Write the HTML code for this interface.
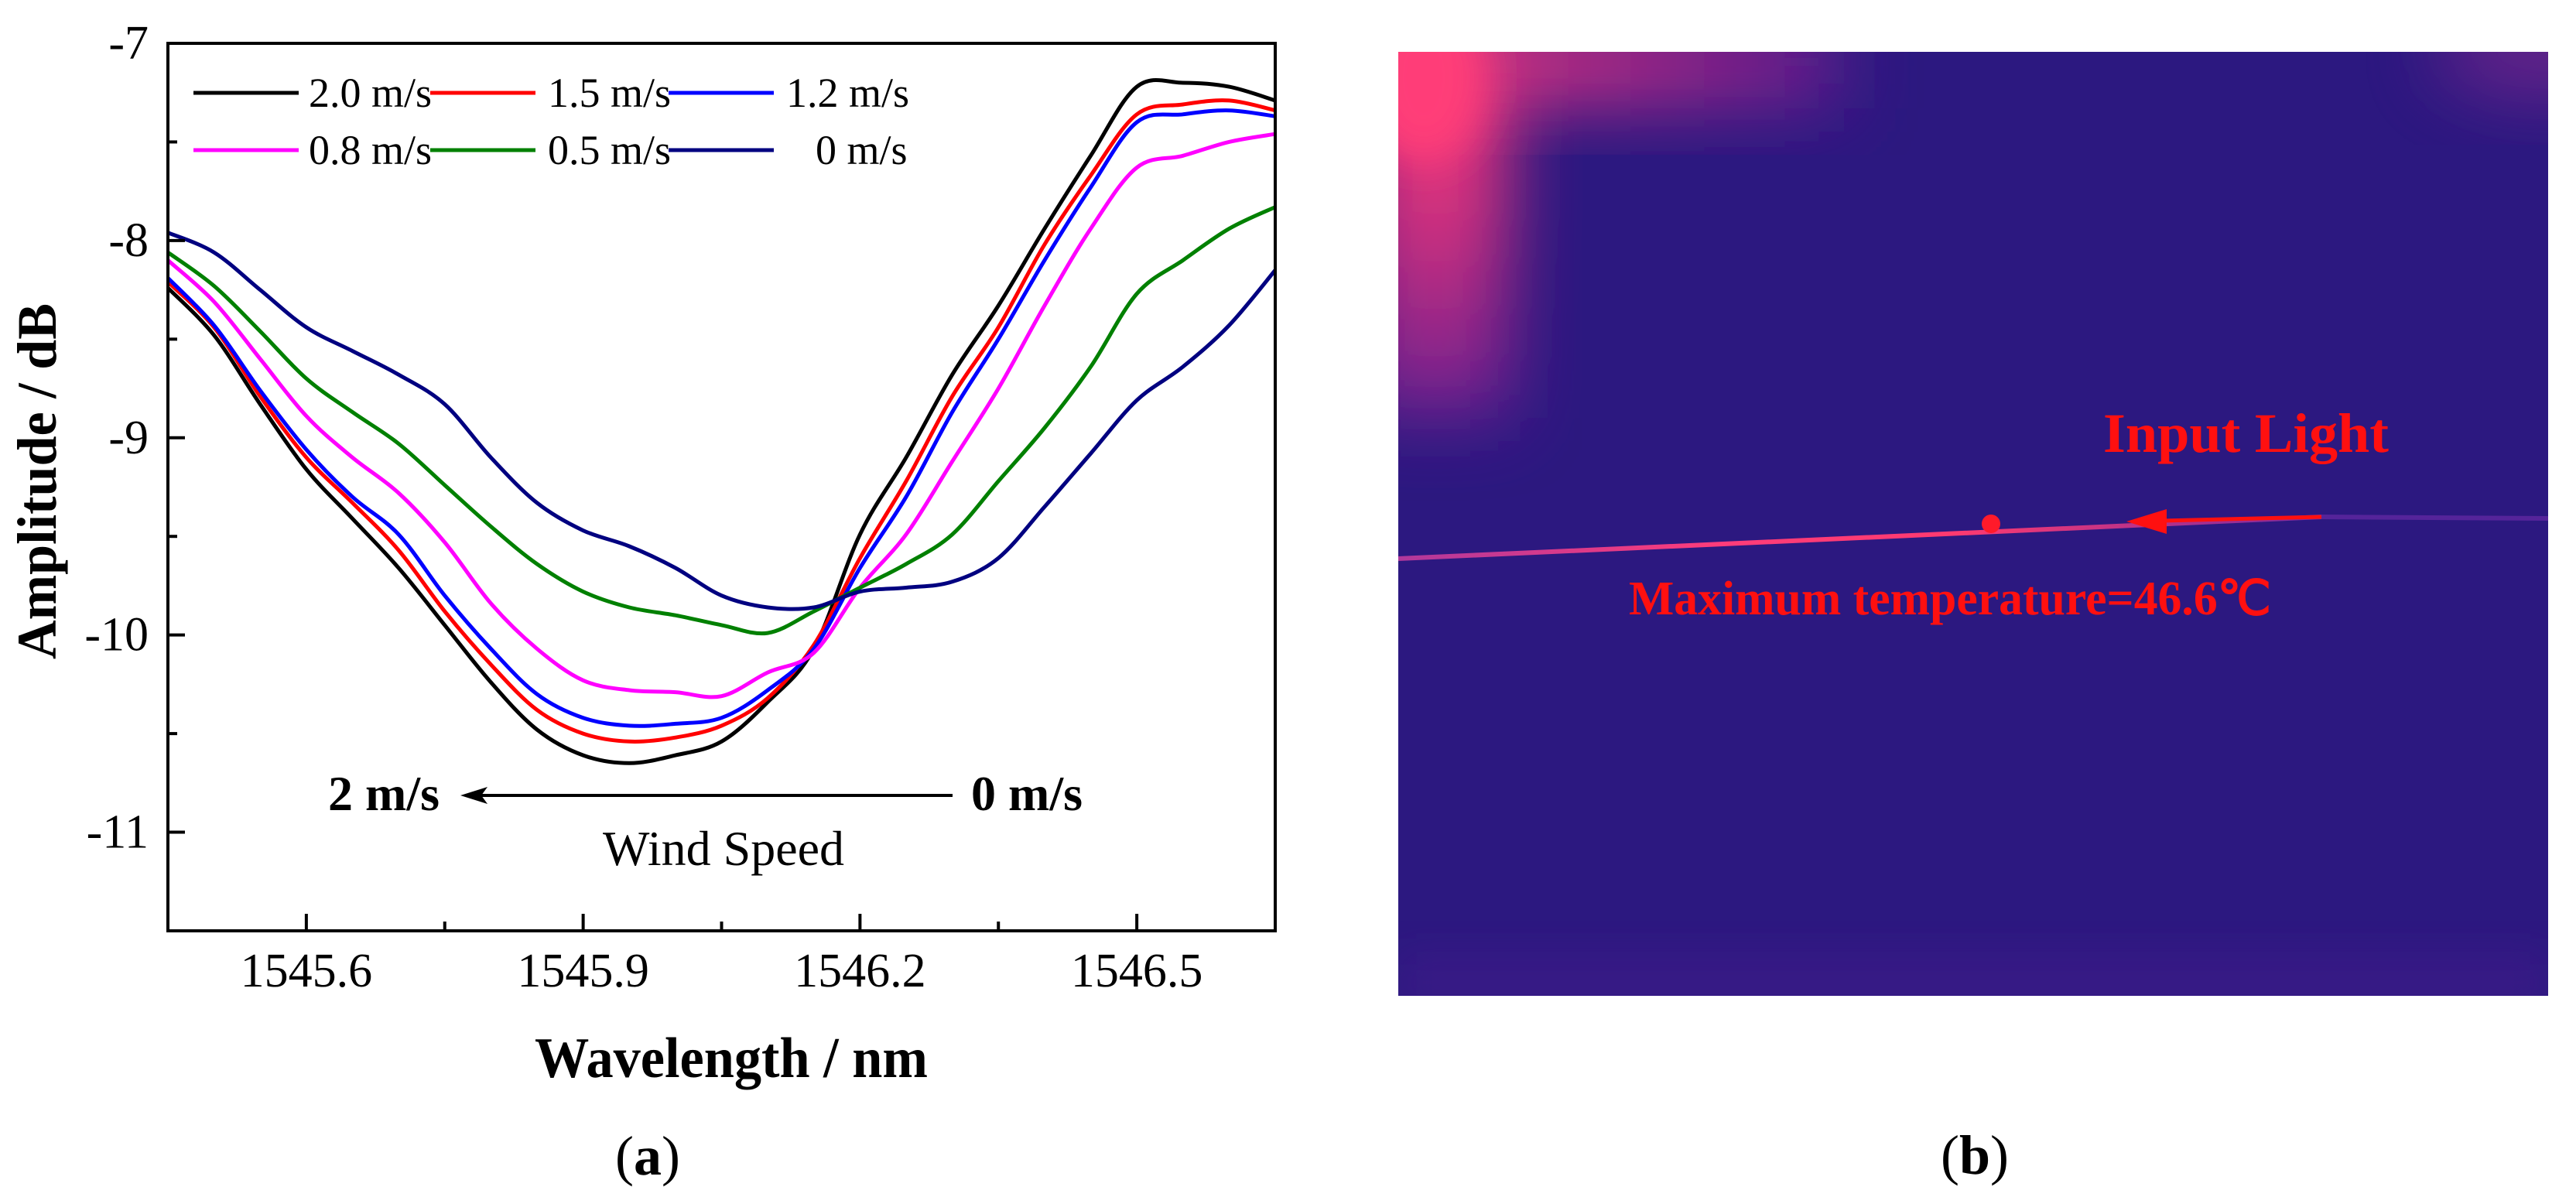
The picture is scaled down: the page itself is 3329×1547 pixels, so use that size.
<!DOCTYPE html>
<html><head><meta charset="utf-8"><style>
html,body{margin:0;padding:0;background:#fff;}
svg{display:block;}
text{font-family:"Liberation Serif",serif;}
</style></head><body>
<svg id="fig" width="3329" height="1547" viewBox="0 0 3329 1547" xmlns="http://www.w3.org/2000/svg">
<defs>
<filter id="blur" x="-50%" y="-50%" width="200%" height="200%"><feGaussianBlur stdDeviation="45"/></filter>
<filter id="blur2" x="-50%" y="-50%" width="200%" height="200%"><feGaussianBlur stdDeviation="25"/></filter>
<clipPath id="imgclip"><rect x="1807" y="67" width="1486" height="1220"/></clipPath>
<linearGradient id="leftStrip" x1="0" y1="0" x2="0" y2="1">
<stop offset="0" stop-color="#ff3a78"/><stop offset="0.5" stop-color="#d0307e"/><stop offset="1" stop-color="#6a2090"/>
</linearGradient>
<linearGradient id="topStrip" x1="0" y1="0" x2="1" y2="0">
<stop offset="0" stop-color="#f03a7a"/><stop offset="0.5" stop-color="#b02a84"/><stop offset="1" stop-color="#5a1d8c"/>
</linearGradient>
<linearGradient id="fiber" x1="0" y1="0" x2="1" y2="0">
<stop offset="0" stop-color="#b0389c"/><stop offset="0.35" stop-color="#ff3c7a"/><stop offset="0.6" stop-color="#ff3a70"/><stop offset="1" stop-color="#7a2aa0"/>
</linearGradient>
</defs>

<g id="chart-a"></g>

<g id="panel-b">
<rect x="1807" y="67" width="1486" height="1220" fill="#2c1880"/>
<g clip-path="url(#imgclip)">
<rect x="1760" y="20" width="190" height="520" fill="url(#leftStrip)" filter="url(#blur)"/>
<rect x="1760" y="20" width="620" height="120" fill="url(#topStrip)" filter="url(#blur)"/>
<ellipse cx="1840" cy="100" rx="80" ry="110" fill="#ff3c78" filter="url(#blur2)"/>
<ellipse cx="3293" cy="67" rx="150" ry="60" fill="#8a2a90" opacity="0.6" filter="url(#blur)"/>
<rect x="1807" y="1230" width="1486" height="80" fill="#4a1a8e" opacity="0.4" filter="url(#blur2)"/>
</g>
<line x1="1807" y1="722" x2="3000" y2="668" stroke="url(#fiber)" stroke-width="6"/>
<line x1="3000" y1="668" x2="3293" y2="670" stroke="#55249a" stroke-width="6"/>
<circle cx="2573" cy="677" r="12" fill="#ff1a2a"/>
<line x1="3000" y1="668" x2="2795" y2="673" stroke="#ff1010" stroke-width="5"/>
<polygon points="2748,674 2800,658 2800,690" fill="#ff1010"/>
<text x="2718" y="584" font-size="72" font-weight="bold" fill="#ff1010" textLength="369" lengthAdjust="spacingAndGlyphs">Input Light</text>
<text x="2105" y="794" font-size="62" font-weight="bold" fill="#ff1010" textLength="830" lengthAdjust="spacingAndGlyphs">Maximum temperature=46.6℃</text>
<text x="2552" y="1517" font-size="72" text-anchor="middle" fill="#000">(<tspan font-weight="bold">b</tspan>)</text>
</g>
</svg>
<script>
const categories = [1545.45,1545.5,1545.55,1545.6,1545.65,1545.7,1545.75,1545.8,1545.85,1545.9,1545.95,1546.0,1546.05,1546.1,1546.15,1546.2,1546.25,1546.3,1546.35,1546.4,1546.45,1546.5,1546.55,1546.6,1546.65];
const s20 = [-8.24,-8.48,-8.83,-9.16,-9.41,-9.66,-9.95,-10.24,-10.48,-10.61,-10.65,-10.61,-10.54,-10.34,-10.07,-9.49,-9.10,-8.68,-8.33,-7.94,-7.57,-7.22,-7.20,-7.22,-7.29];
const s15 = [-8.21,-8.44,-8.79,-9.10,-9.33,-9.57,-9.88,-10.15,-10.38,-10.50,-10.54,-10.52,-10.46,-10.32,-10.05,-9.61,-9.22,-8.79,-8.44,-8.02,-7.67,-7.36,-7.31,-7.29,-7.34];
const s12 = [-8.19,-8.43,-8.76,-9.06,-9.30,-9.49,-9.80,-10.07,-10.30,-10.42,-10.46,-10.45,-10.42,-10.28,-10.07,-9.66,-9.30,-8.87,-8.50,-8.10,-7.73,-7.40,-7.36,-7.34,-7.37];
const s08 = [-8.10,-8.31,-8.60,-8.89,-9.10,-9.28,-9.53,-9.84,-10.07,-10.23,-10.28,-10.29,-10.31,-10.19,-10.09,-9.76,-9.49,-9.12,-8.75,-8.33,-7.94,-7.63,-7.57,-7.50,-7.46];
const s05 = [-8.06,-8.23,-8.46,-8.70,-8.87,-9.03,-9.24,-9.45,-9.64,-9.78,-9.86,-9.90,-9.95,-9.99,-9.88,-9.76,-9.64,-9.49,-9.22,-8.95,-8.64,-8.27,-8.10,-7.94,-7.83];
const s00 = [-7.96,-8.06,-8.25,-8.44,-8.56,-8.68,-8.83,-9.10,-9.33,-9.47,-9.55,-9.66,-9.80,-9.86,-9.86,-9.78,-9.76,-9.73,-9.61,-9.35,-9.08,-8.81,-8.64,-8.43,-8.15];
const seriesNames = ["2.0 m/s","1.5 m/s","1.2 m/s","0.8 m/s","0.5 m/s","0 m/s"];
const seriesColors = ["#000000","#ff0000","#0000ff","#ff00ff","#008000","#000080"];
const xTicks = [1545.6,1545.9,1546.2,1546.5];
const xTickLabels = ["1545.6","1545.9","1546.2","1546.5"];
const xMinor = [1545.75,1546.05,1546.35];
const yTicks = [-7,-8,-9,-10,-11];
const yTickLabels = ["-7","-8","-9","-10","-11"];
const yMinor = [-7.5,-8.5,-9.5,-10.5,-11.5];

const NS="http://www.w3.org/2000/svg";
const L=217,R=1648,T=56,B=1203;
const xMin=1545.45,xMax=1546.65,yMin=-11.5,yMax=-7;
function sx(v){return L+(v-xMin)/(xMax-xMin)*(R-L);}
function sy(v){return T+(yMax-v)/(yMax-yMin)*(B-T);}
const g=document.getElementById('chart-a');
function mk(tag,attrs,parent){const e=document.createElementNS(NS,tag);for(const k in attrs)e.setAttribute(k,attrs[k]);(parent||g).appendChild(e);return e;}

const allSeries=[s20,s15,s12,s08,s05,s00];
allSeries.forEach((s,i)=>{
  const pts=s.map((v,j)=>[sx(categories[j]),sy(v)]);
  let d='M'+pts[0][0].toFixed(1)+','+pts[0][1].toFixed(1);
  for(let j=0;j<pts.length-1;j++){
    const p0=pts[Math.max(0,j-1)],p1=pts[j],p2=pts[j+1],p3=pts[Math.min(pts.length-1,j+2)];
    const c1=[p1[0]+(p2[0]-p0[0])/6,p1[1]+(p2[1]-p0[1])/6];
    const c2=[p2[0]-(p3[0]-p1[0])/6,p2[1]-(p3[1]-p1[1])/6];
    d+=' C'+c1[0].toFixed(1)+','+c1[1].toFixed(1)+' '+c2[0].toFixed(1)+','+c2[1].toFixed(1)+' '+p2[0].toFixed(1)+','+p2[1].toFixed(1);
  }
  const p=mk('path',{d:d,fill:'none',stroke:seriesColors[i],'stroke-width':5,'stroke-linejoin':'round'});
  
  
});

const box=mk('rect',{x:L,y:T,width:R-L,height:B-T,fill:'none',stroke:'#000','stroke-width':4});



xTicks.forEach((v,i)=>{
  const t=mk('line',{x1:sx(v),x2:sx(v),y1:B,y2:B-22,stroke:'#000','stroke-width':4});
  
  
  const lb=mk('text',{x:sx(v),y:1275,'font-size':62,'text-anchor':'middle'});
  lb.textContent=xTickLabels[i];
  
  
});
xMinor.forEach(v=>{
  const t=mk('line',{x1:sx(v),x2:sx(v),y1:B,y2:B-12,stroke:'#000','stroke-width':4});
  
  
});
yTicks.forEach((v,i)=>{
  const t=mk('line',{x1:L,x2:L+22,y1:sy(v),y2:sy(v),stroke:'#000','stroke-width':4});
  
  
  const lb=mk('text',{x:192,y:sy(v)+20,'font-size':62,'text-anchor':'end'});
  lb.textContent=yTickLabels[i];
  
  
});
yMinor.forEach(v=>{
  const t=mk('line',{x1:L,x2:L+12,y1:sy(v),y2:sy(v),stroke:'#000','stroke-width':4});
  
  
});

const yt=mk('text',{x:0,y:0,'font-size':72,'font-weight':'bold','text-anchor':'middle',transform:'translate(72,622) rotate(-90)',textLength:460,lengthAdjust:'spacingAndGlyphs'});
yt.textContent='Amplitude / dB';


const xt=mk('text',{x:945,y:1392,'font-size':74,'font-weight':'bold','text-anchor':'middle',textLength:508,lengthAdjust:'spacingAndGlyphs'});
xt.textContent='Wavelength / nm';


const pa=mk('text',{x:837,y:1518,'font-size':72,'text-anchor':'middle'});
pa.innerHTML='(<tspan font-weight="bold">a</tspan>)';



const legLineX=[250,556,864], legTextX=[399,708,1016], legY=[120,194];
seriesNames.forEach((n,i)=>{
  const r=Math.floor(i/3), c=i%3;
  const ln=mk('line',{x1:legLineX[c],x2:legLineX[c]+136,y1:legY[r],y2:legY[r],stroke:seriesColors[i],'stroke-width':5});
  
  
  const tx=mk('text',{x:(i===5?1054:legTextX[c]),y:legY[r]+18,'font-size':54});
  tx.textContent=n;
  
  
});

const a1=mk('text',{x:424,y:1047,'font-size':64,'font-weight':'bold'});
a1.textContent='2 m/s';


const a2=mk('text',{x:1255,y:1047,'font-size':64,'font-weight':'bold'});
a2.textContent='0 m/s';


const ar=mk('line',{x1:1231,x2:620,y1:1028,y2:1028,stroke:'#000','stroke-width':4});


const ah=mk('polygon',{points:'595,1028 630,1017 622,1028 630,1039',fill:'#000'});


const ws=mk('text',{x:935,y:1118,'font-size':64,'text-anchor':'middle'});
ws.textContent='Wind Speed';


</script>
</body></html>
